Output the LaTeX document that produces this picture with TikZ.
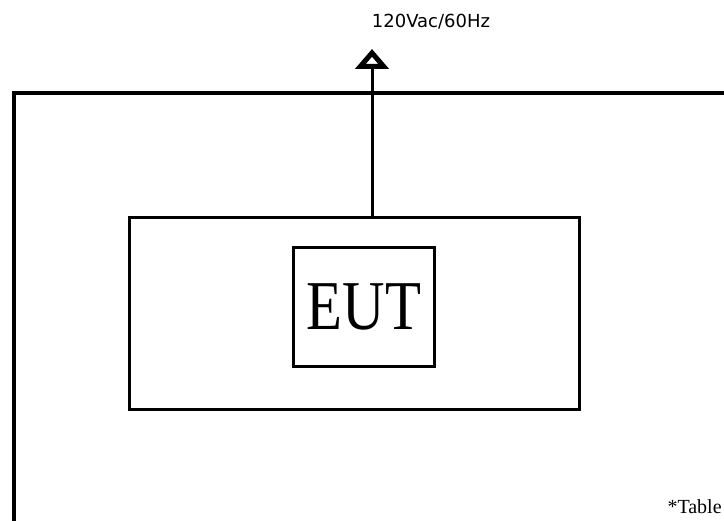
\documentclass[tikz,border=0pt]{standalone}
\usepackage{fontspec}
\newfontfamily\labelfont{DejaVu Sans}
\newfontfamily\boxfont{Liberation Serif}
\usetikzlibrary{arrows.meta}

\begin{document}
\begin{tikzpicture}[x=1pt,y=-1pt,line width=3pt,
  every node/.style={inner sep=0pt}]
  \clip (0,0) rectangle (724,521);
  % chamber wall
  \coordinate (WB) at (14,540);
  \coordinate (WL) at (14,93);
  \coordinate (WR) at (740,93);
  \draw[line width=3.5pt] (WB) -- (WL) -- (WR);
  % table and EUT
  \node[draw,minimum width=450,minimum height=192] (table) at (354,314) {};
  \node[draw,line width=3.5pt,minimum width=141,minimum height=119,
    font=\boxfont\fontsize{70pt}{70pt}\selectfont] (eut) at (364,307)
    {\scalebox{0.84}[1]{EUT}};
  % power supply
  \coordinate (ac) at (372,49);
  \draw[-{Triangle[open,length=20pt,width=33pt,line width=6pt]}]
    (ac |- table.north) -- (ac);
  \node[font=\labelfont\fontsize{18pt}{21pt}\selectfont,anchor=base] (acl)
    at (431,27.5) {120Vac/60Hz};
  \node[font=\boxfont\fontsize{20pt}{23pt}\selectfont,anchor=base west] (note)
    at (666,514) {*Table};
\end{tikzpicture}
\end{document}
